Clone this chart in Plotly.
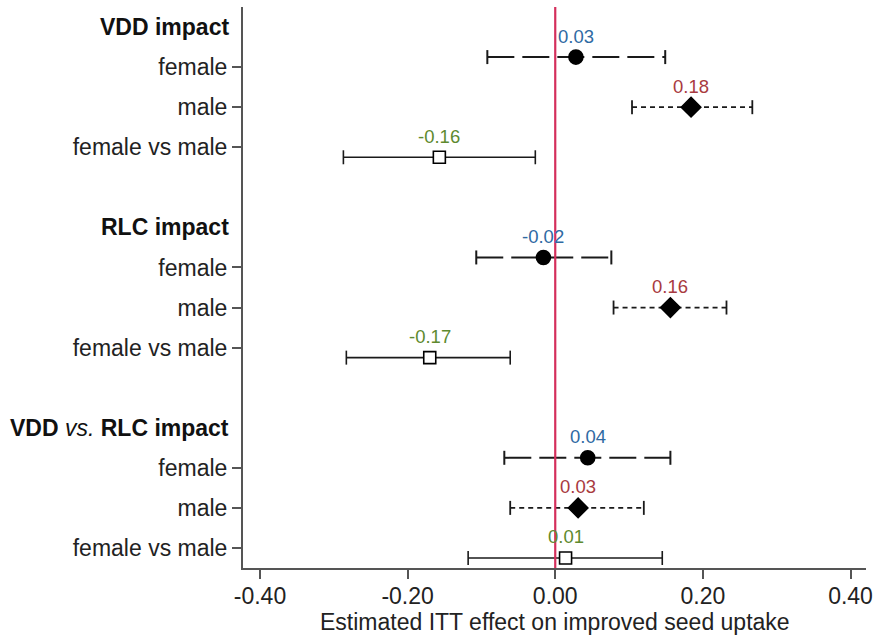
import plotly.graph_objects as go

# ---- data ----
groups = ["VDD impact", "RLC impact", "VDD vs. RLC impact"]
group_headers = ["<b>VDD impact</b>", "<b>RLC impact</b>", "<b>VDD</b> <i>vs.</i> <b>RLC impact</b>"]
items = ["female", "male", "female vs male"]

# point estimates per group (order: VDD, RLC, VDD vs RLC)
est_female = [0.028, -0.016, 0.044]
est_male = [0.184, 0.156, 0.031]
est_diff = [-0.157, -0.170, 0.014]

lo_female = [-0.092, -0.107, -0.069]
hi_female = [0.149, 0.076, 0.156]
lo_male = [0.104, 0.079, -0.061]
hi_male = [0.267, 0.232, 0.120]
lo_diff = [-0.287, -0.283, -0.118]
hi_diff = [-0.027, -0.061, 0.145]

x_ticks = [-0.40, -0.20, 0.00, 0.20, 0.40]
x_title = "Estimated ITT effect on improved seed uptake"

# ---- layout helpers ----
row_step = 5  # rows per group (header + 3 items + blank)
item_offset = {"female": -0.25, "male": 0.0, "female vs male": 0.25}

series = [
    dict(name="female", est=est_female, lo=lo_female, hi=hi_female,
         dash="27px,8px", lw=2, symbol="circle", msize=14, mfill="black",
         tcolor="#2f6aa3", row=1),
    dict(name="male", est=est_male, lo=lo_male, hi=hi_male,
         dash="5px,4px", lw=1.8, symbol="diamond", msize=15, mfill="black",
         tcolor="#a83a40", row=2),
    dict(name="female vs male", est=est_diff, lo=lo_diff, hi=hi_diff,
         dash="solid", lw=1.6, symbol="square", msize=12, mfill="white",
         tcolor="#5e8a2e", row=3),
]

fig = go.Figure()
annotations = []

for s in series:
    for g in range(len(groups)):
        y = g * row_step + s["row"] + item_offset[s["name"]]
        # CI line
        fig.add_trace(go.Scatter(
            x=[s["lo"][g], s["hi"][g]], y=[y, y], mode="lines",
            line=dict(color="#1a1a1a", width=s["lw"], dash=s["dash"]),
            hoverinfo="skip", showlegend=False))
        # caps
        fig.add_trace(go.Scatter(
            x=[s["lo"][g], s["hi"][g]], y=[y, y], mode="markers",
            marker=dict(symbol="line-ns", size=10,
                        line=dict(color="#1a1a1a", width=s["lw"])),
            hoverinfo="skip", showlegend=False))
        # point estimate
        fig.add_trace(go.Scatter(
            x=[s["est"][g]], y=[y], mode="markers",
            marker=dict(symbol=s["symbol"], size=s["msize"], color=s["mfill"],
                        line=dict(color="black", width=1.6)),
            showlegend=False))
        annotations.append(dict(
            x=s["est"][g], y=y, xref="x", yref="y", text=f"{s['est'][g]:.2f}",
            showarrow=False, yshift=21, yanchor="middle", xanchor="center",
            font=dict(size=18.5, color=s["tcolor"], family="Liberation Sans")))

# headers as annotations (no ticks)
for g, h in enumerate(group_headers):
    annotations.append(dict(
        x=0, y=g * row_step, xref="paper", yref="y", text=h, showarrow=False,
        xanchor="right", yanchor="middle", xshift=-12,
        font=dict(size=23, color="#111111", family="Liberation Sans")))

# x-axis title
annotations.append(dict(
    x=0.5, y=0, xref="paper", yref="paper", text=x_title, showarrow=False,
    xanchor="center", yanchor="middle", yshift=-54,
    font=dict(size=23, color="#222222", family="Liberation Sans")))

tickvals = []
ticktext = []
for g in range(len(groups)):
    for i, it in enumerate(items):
        tickvals.append(g * row_step + i + 1)
        ticktext.append(it)

fig.add_shape(type="line", x0=0, x1=0, xref="x", y0=0, y1=1, yref="paper",
              line=dict(color="#d42f5c", width=2.2), layer="above")

fig.update_layout(
    width=878, height=635,
    margin=dict(l=243, r=12, t=7, b=67, autoexpand=False),
    plot_bgcolor="white", paper_bgcolor="white",
    font=dict(family="Liberation Sans", size=23, color="#222222"),
    annotations=annotations,
    showlegend=False,
)
fig.update_xaxes(
    range=[-0.423, 0.421], tickvals=x_ticks,
    ticktext=[f"{v:.2f}" for v in x_ticks], automargin=False,
    showgrid=False, zeroline=False, showline=True, linecolor="#555555", linewidth=2,
    ticks="outside", ticklen=9, tickwidth=1.5, tickcolor="#555555",
    ticklabelstandoff=-3,
    tickfont=dict(size=23, color="#222222"),
)
fig.update_yaxes(
    range=[13.5, -0.5], tickvals=tickvals, ticktext=ticktext, automargin=False,
    showgrid=False, zeroline=False, showline=True, linecolor="#555555", linewidth=2,
    ticks="outside", ticklen=9, tickwidth=1.5, tickcolor="#555555",
    tickfont=dict(size=23, color="#222222"),
)

fig.write_html("out.html", config={"displayModeBar": False},
               post_script="document.body.style.margin='0px';document.body.style.overflow='hidden';")
